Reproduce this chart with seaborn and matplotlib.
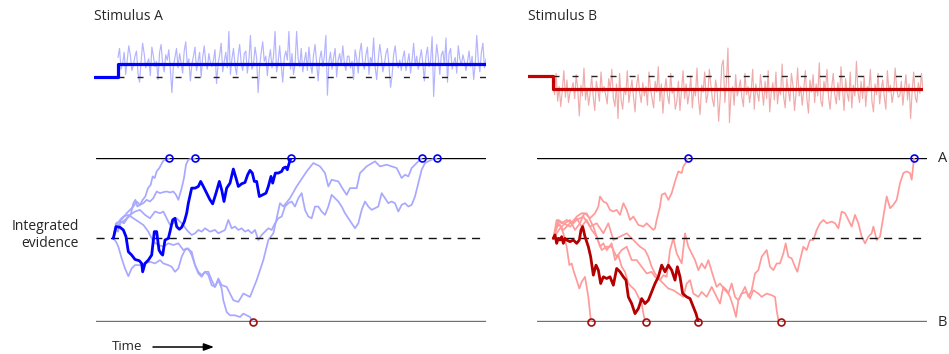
import numpy as np
import matplotlib
matplotlib.use("Agg")
import matplotlib.pyplot as plt
import seaborn as sns

# ---------------- data ----------------
# Stimulus traces (signal level relative to the dashed zero line)
stim_duration = 368
stim_a_signal_t = [-24, 0, 368]
stim_a_signal_v = [0, 1, 1]
stim_b_signal_t = [-25, 0, 370]
stim_b_signal_v = [0, -1, -1]

stim_a_noise = [
    1.5, 2.2, 0.6, 1.0, 1.9, 0.2, 1.3, 2.4, 1.7, 0.5, 0.9, 1.6, 2.0, 0.3, -0.4, 1.2, 2.6, 1.8, 0.7, 1.1,
    1.4, 0.1, 2.3, 1.6, 0.8, 1.2, -0.2, 1.9, 2.5, 1.0, 0.4, 1.7, 1.3, 2.1, 0.6, -1.2, 0.9, 1.5, 2.2, 0.7,
    1.8, 1.1, 0.3, 2.0, 2.7, 0.9, 1.4, -0.3, 1.0, 1.6, 2.3, 0.5, 1.2, 1.9, 0.0, 1.5, 2.4, 1.1, 0.6, 1.8,
    1.1, 0.8, 1.3, 2.1, -0.5, 1.0, 1.7, 2.6, 0.4, 1.2, 1.9, 0.7, 3.5, 0.2, 1.4, 2.2, 0.9, 0.2, 1.6, 2.5,
    1.1, 0.5, 1.8, 2.0, 0.3, 1.3, 3.2, 0.6, 1.0, 2.3, 1.5, -1.2, 0.8, 1.9, 2.7, 1.2, 1.6, 0.1, 1.4, 2.1,
    0.7, 1.6, 3.5, 0.4, 1.1, 2.4, 0.9, -0.4, 1.5, 2.0, 1.3, 3.5, 0.6, 1.8, 0.2, 1.0, 3.5, 1.4, 0.8, 2.2,
    0.4, 1.2, 1.9, 0.5, 2.3, 1.0, 0.3, 1.7, 2.5, 1.1, -0.3, 1.4, 2.0, 0.8, 1.6, 3.2, -1.4, 1.2, 1.9, 0.6,
    1.5, 2.2, 0.0, 1.3, 1.8, 0.9, 2.4, 1.1, 0.5, 1.6, 1.6, 0.7, 1.2, -0.2, 2.1, 1.4, 0.3, 1.9, 2.6, 1.0,
    0.6, 1.7, 2.3, 0.2, 1.5, 1.1, 3.0, 0.8, -0.2, 1.3, 2.5, 1.6, 0.4, 1.0, 1.8, 2.2, 0.9, -0.8, 0.1, 1.7,
    2.4, 1.2, 0.7, 1.3, 0.5, 1.5, 2.0, 0.5, 1.1, 1.8, 0.3, 1.3, 2.6, 0.9, 1.6, 0.6, 1.4, 2.1, 1.0, -0.3,
    1.6, 2.3, 0.8, 1.2, 3.1, -1.5, 1.0, 2.5, 1.5, 0.2, 1.7, 2.0, 0.9, 3.0, -0.4, 1.8, 2.2, 0.6, 1.1, 1.5,
    0.3, 2.4, 1.4, 0.9, 1.7, 1.2, 0.5, 1.2, 2.0, 0.8, 1.6, -0.2, 1.0, 3.2, 1.3, 0.4, 1.9, 2.6, 0.7, 1.4,
]
stim_b_noise = [
    -0.6, -1.4, 0.2, -1.9, -0.8, -2.3, -1.1, 0.4, -1.6, -0.3, -2.0, -1.2, -1.0, -0.5, -1.7, 0.1, -1.0, -3.0, -0.7, -1.5,
    0.6, -1.8, -0.9, -2.2, -1.3, 0.0, -1.6, -2.6, -0.4, -1.1, -1.9, 0.3, -1.2, -0.8, -1.4, -2.1, -0.2, -1.0, 0.5, -1.7,
    -2.3, -0.6, -3.2, 0.2, -1.8, -2.5, -0.9, -1.4, 0.4, -2.0, -1.1, -0.3, -1.6, -2.7, -0.7, 0.1, -1.3, -2.0, -0.5, -1.5,
    -0.8, -2.2, 0.3, -1.0, -1.7, -2.4, -0.4, -1.2, 0.7, -1.9, -0.6, -2.8, -1.1, -0.2, -1.5, -2.1, 0.2, -1.3, -0.9, -2.5,
    -1.9, -0.4, -2.6, -1.1, 0.4, -1.7, -0.6, -2.1, -1.3, 0.0, -2.4, -0.9, -1.5, 0.6, -1.8, -2.9, -0.7, -1.2, 0.3, -2.0,
    -1.4, 0.5, -0.7, -1.8, -2.3, -0.3, -1.0, -3.4, -1.6, 0.8, 1.2, -2.0, -0.5, 2.1, -3.5, -1.2, -0.8, -2.2, 0.1, -1.5,
    -1.0, -0.3, -1.6, -2.3, 0.2, -1.4, -0.8, -2.0, -1.1, 0.5, -2.5, -0.6, -1.3, -1.9, 0.1, -1.0, -2.2, -0.4, -1.7, 0.4,
    -2.7, -1.2, -0.5, -1.8, 0.3, -2.1, -0.9, -1.4, 0.9, -1.6, -2.4, -0.2, -1.1, -1.9, 0.2, -0.7, -2.6, -1.3, 0.6, -1.5,
    -0.8, -2.2, -1.0, 0.4, -1.7, -2.8, -0.3, -1.2, 0.1, -2.0, -0.6, -1.5, 1.0, -1.9, -2.3, -0.4, -1.1, 0.5, -1.6, -2.5,
    -0.9, 0.2, -1.4, -2.1, -0.5, -1.8, 0.7, -1.0, -2.6, -0.2, -1.3, -1.9, 0.3, -2.4, -0.7, -1.5, 1.1, -1.2, -2.0, -0.4,
    -1.7, 0.0, -2.3, -0.8, -1.1, 0.5, -1.9, -2.7, -0.6, -1.4, 0.2, -2.1, -1.0, -0.3, -1.6, -2.5, 0.4, -1.2, -0.7, -2.0,
    -1.3, 0.6, -0.9, -1.6, -1.5, -0.4, -2.2, -1.0, 0.1, -1.8, -0.6, -3.2, -1.1, 0.3, -1.6, -2.0, -0.5, -1.3, 0.2, -1.1,
]

# Integrated evidence (arbitrary units): bound A = +240, bound B = -250
bound_a = 240
bound_b = -250

walk_a_bold = [(0, 0), (8, 35), (20, 33), (30, 25), (38, 5), (45, -40), (55, -50), (65, -63),
               (78, -67), (85, -75), (88, -100), (95, -75), (105, -65), (115, -50), (123, 20),
               (130, 20), (137, -35), (143, -45), (148, -50), (155, -5), (165, 0), (170, 20),
               (178, 55), (185, 60), (190, 35), (198, 27), (205, 33), (213, 50), (220, 75),
               (225, 105), (235, 150), (245, 150), (255, 155), (262, 170), (270, 155), (280, 135),
               (290, 115), (298, 103), (308, 135), (318, 170), (325, 145), (332, 110), (340, 150),
               (350, 165), (360, 207), (368, 180), (375, 155), (385, 163), (395, 167), (403, 190),
               (410, 203), (417, 195), (423, 170), (430, 170), (438, 125), (448, 130), (458, 135),
               (465, 155), (473, 185), (478, 165), (486, 195), (495, 195), (505, 200), (510, 210),
               (517, 213), (522, 205), (527, 223), (533, 240)]
walks_a_light = [
    [(0, 0), (6, 30), (14, 20), (22, 50), (32, 45), (42, 60), (52, 70), (60, 105), (66, 115),
     (72, 95), (80, 100), (88, 115), (96, 125), (104, 150), (112, 160), (118, 185), (124, 180),
     (130, 200), (138, 210), (146, 225), (152, 235), (160, 232), (167, 240)],
    [(0, 0), (8, 45), (18, 50), (28, 60), (40, 75), (50, 85), (60, 95), (70, 110), (80, 100),
     (90, 105), (100, 115), (110, 110), (120, 120), (130, 140), (140, 135), (150, 138),
     (160, 140), (170, 137), (180, 140), (188, 130), (195, 115), (205, 150), (212, 180),
     (218, 220), (225, 235), (235, 238), (245, 240)],
    [(0, 0), (8, -10), (15, -25), (25, -60), (35, -90), (45, -113), (55, -90), (65, -80),
     (80, -80), (95, -75), (110, -70), (125, -75), (140, -65), (150, -75), (165, -80),
     (175, -85), (185, -100), (195, -90), (205, -55), (215, -35), (225, -30), (235, -50),
     (245, -80), (255, -105), (265, -115), (275, -100), (285, -110), (295, -140), (305, -145),
     (315, -125), (325, -150), (330, -185), (340, -220), (350, -230), (365, -230), (380, -235),
     (390, -225), (400, -230), (410, -235), (418, -250)],
    [(0, 0), (10, 40), (20, 55), (30, 65), (45, 70), (60, 60), (75, 50), (90, 40), (105, 20),
     (120, -10), (135, -20), (150, -25), (165, -15), (180, -20), (195, -15), (210, -35),
     (220, -30), (235, -40), (245, -80), (255, -100), (265, -110), (275, -100), (285, -100),
     (295, -125), (305, -145), (315, -120), (325, -140), (340, -145), (350, -165), (360, -185),
     (375, -190), (390, -165), (410, -175), (430, -125), (450, -65), (465, -5), (480, 15),
     (500, 105), (510, 95), (530, 120), (550, 155), (560, 170), (580, 200), (600, 225),
     (620, 215), (635, 195), (645, 155), (655, 175), (675, 170), (690, 145), (700, 130),
     (710, 150), (730, 150), (740, 195), (760, 215), (785, 230), (800, 215), (820, 220),
     (835, 215), (850, 210), (865, 180), (875, 190), (885, 185), (895, 210), (910, 225),
     (925, 240)],
    [(0, 0), (10, 30), (20, 45), (35, 55), (50, 70), (65, 80), (80, 85), (95, 70), (110, 60),
     (125, 80), (140, 75), (150, 80), (160, 60), (170, 40), (180, 45), (190, 60), (200, 50),
     (210, 40), (220, 25), (235, 10), (245, 15), (255, 25), (265, 20), (275, 30), (290, 20),
     (305, 25), (315, 15), (325, 20), (335, 25), (345, 55), (355, 30), (365, 35), (375, 25),
     (385, 30), (395, 20), (405, 25), (415, 15), (425, 25), (435, -5), (445, 10), (455, 20),
     (465, 30), (475, 25), (485, 45), (495, 60), (505, 65), (515, 95), (525, 105), (535, 110),
     (545, 95), (555, 120), (565, 135), (575, 85), (585, 65), (595, 60), (605, 95), (615, 95),
     (625, 80), (635, 70), (645, 95), (655, 130), (665, 120), (675, 110), (685, 95), (695, 75),
     (705, 60), (715, 45), (725, 30), (735, 45), (745, 85), (755, 110), (765, 95), (775, 85),
     (785, 90), (795, 95), (805, 135), (815, 120), (825, 105), (835, 110), (845, 105),
     (855, 80), (865, 100), (875, 105), (885, 95), (895, 100), (905, 125), (915, 165),
     (925, 205), (935, 225), (945, 230), (955, 235), (970, 240)],
]

walk_b_bold = [(0, 0), (5, 10), (10, -15), (15, 0), (20, -5), (25, 5), (30, -15), (35, 0), (40, -5),
               (50, -10), (60, -5), (70, -15), (78, -5), (83, 25), (88, 35), (95, 5), (105, -25),
               (112, -55), (120, -110), (128, -80), (135, -95), (142, -135), (150, -115),
               (160, -120), (170, -115), (180, -140), (190, -90), (200, -100), (210, -115),
               (218, -125), (225, -175), (235, -195), (245, -225), (255, -210), (265, -180),
               (275, -195), (285, -185), (295, -160), (305, -135), (315, -115), (325, -80),
               (335, -100), (345, -80), (355, -95), (365, -125), (372, -85), (380, -115),
               (388, -165), (400, -175), (410, -180), (420, -205), (428, -225), (435, -250)]
walks_b_light = [
    [(0, 0), (10, 35), (20, 40), (30, 15), (40, -25), (48, -80), (55, -75), (60, -95),
     (70, -125), (78, -150), (85, -130), (95, -115), (105, -175), (113, -250)],
    [(0, 0), (10, 55), (25, 45), (40, 55), (55, 45), (70, 65), (85, 75), (95, 75), (110, 60),
     (125, 75), (135, 95), (140, 125), (150, 110), (160, 105), (170, 85), (180, 80), (190, 85),
     (200, 70), (210, 105), (220, 85), (230, 55), (240, 65), (255, 40), (270, 35), (280, 45),
     (290, 35), (300, 25), (305, 30), (310, 55), (320, 95), (325, 130), (335, 135), (345, 115),
     (355, 135), (365, 170), (375, 200), (385, 195), (390, 215), (397, 225), (403, 240)],
    [(0, 0), (10, 15), (20, 30), (35, 45), (50, 55), (65, 25), (80, 45), (90, 70), (100, 75),
     (110, 55), (120, 35), (130, 5), (140, -25), (150, -15), (160, -35), (175, -15), (185, -65),
     (195, -50), (205, -85), (215, -100), (225, -135), (235, -145), (245, -155), (255, -175),
     (265, -195), (272, -235), (278, -250)],
    [(0, 0), (15, 55), (30, 45), (50, 35), (70, 55), (90, 65), (110, 35), (130, 45), (150, 15),
     (165, 45), (180, -5), (200, 5), (220, 15), (240, -5), (260, -25), (275, -35), (285, -55),
     (295, -85), (305, -105), (320, -125), (330, -110), (340, -115), (350, -35), (360, 0),
     (370, -45), (385, -75), (395, 15), (405, -25), (415, -45), (425, -65), (435, -95),
     (445, -75), (455, -90), (465, -65), (480, -115), (490, -145), (500, -135), (515, -155),
     (525, -165), (535, -135), (545, -175), (555, -185), (565, -165), (580, -160), (590, -180),
     (600, -155), (615, -165), (625, -175), (640, -165), (655, -170), (665, -175), (670, -215),
     (675, -245), (683, -250)],
    [(0, 0), (15, 45), (30, 25), (50, 45), (70, 60), (85, 35), (100, 55), (115, 25), (130, 5),
     (145, -35), (160, -25), (175, -25), (190, -55), (205, -35), (220, -25), (235, -65),
     (250, -65), (265, -85), (280, -105), (295, -100), (305, -115), (320, -125), (330, -135),
     (345, -150), (360, -155), (375, -165), (390, -175), (400, -135), (410, -125), (420, -165),
     (435, -175), (445, -160), (460, -175), (475, -145), (485, -165), (500, -195), (510, -145),
     (520, -155), (530, -175), (540, -205), (548, -235), (555, -185), (565, -165), (575, -145),
     (585, -175), (595, -155), (605, -105), (615, -95), (625, -55), (640, -35), (650, -85),
     (660, -95), (670, -75), (680, -75), (690, -45), (697, -15), (705, -55), (715, -60),
     (725, -85), (732, -100), (740, -65), (750, -25), (760, -35), (770, -5), (780, -5),
     (790, 25), (800, 45), (810, 55), (820, 45), (835, 50), (845, 45), (855, 30), (865, 80),
     (875, 75), (885, 55), (895, 35), (905, 70), (915, 45), (925, 5), (935, -15), (945, 5),
     (955, 15), (960, 35), (970, -5), (980, 5), (990, 65), (1000, 125), (1010, 90),
     (1020, 100), (1030, 115), (1040, 165), (1050, 195), (1060, 200), (1070, 195),
     (1075, 175), (1082, 240)],
]

# ---------------- style ----------------
sns.set_style("white")
plt.rcParams["font.family"] = ["Open Sans", "DejaVu Sans"]

W, H = 949, 354
fig = plt.figure(figsize=(W / 100, H / 100), dpi=100)


def add_ax(x0, y0, x1, y1):
    ax = fig.add_axes([x0 / W, 1 - y1 / H, (x1 - x0) / W, (y1 - y0) / H])
    ax.axis("off")
    return ax


BLUE = "#0000ff"
LBLUE = "#a8a8ff"
RED = "#b40000"
LRED = "#ff9a9a"
MRED = "#a01010"

# ---------------- stimulus panels ----------------
def draw_stim(ax, noise, sig_t, sig_v, noise_col, sig_col, dur):
    times = np.linspace(0, dur, len(noise))
    sns.lineplot(x=times, y=noise, ax=ax, color=noise_col, lw=0.85,
                 estimator=None, sort=False, zorder=1)
    ax.hlines(0, 0, dur, colors="#222222", linestyles=(0, (4.3, 9.4)), lw=1.0, zorder=2)
    sns.lineplot(x=sig_t, y=sig_v, ax=ax, color=sig_col, lw=2.3, drawstyle="steps-post",
                 estimator=None, sort=False, zorder=3)


axA = add_ax(94, 20, 486, 110)
axA.set_xlim(-24, 368)
axA.set_ylim(-33 / 13, 57 / 13)
draw_stim(axA, stim_a_noise, stim_a_signal_t, stim_a_signal_v, "#b4b4ff", BLUE, stim_duration)

axB = add_ax(528, 19, 923, 129)
axB.set_xlim(-25, 370)
axB.set_ylim(-53 / 13.3, 57 / 13.3)
draw_stim(axB, stim_b_noise, stim_b_signal_t, stim_b_signal_v, "#efacac", "#c40000", 370)

# ---------------- evidence panels ----------------
def draw_evidence(ax, light, bold, light_col, bold_col):
    ax.axhline(bound_a, color="black", lw=1.0, zorder=1)
    ax.axhline(bound_b, color="#707070", lw=1.7, zorder=1)
    ax.axhline(0, color="#111111", lw=1.0, ls=(0, (5.8, 4.6)), zorder=3)
    for w in light:
        arr = np.array(w)
        sns.lineplot(x=arr[:, 0], y=arr[:, 1], ax=ax, color=light_col, lw=1.25,
                     estimator=None, zorder=2)
    arr = np.array(bold)
    sns.lineplot(x=arr[:, 0], y=arr[:, 1], ax=ax, color=bold_col, lw=2.0,
                 estimator=None, zorder=4)
    for w in light + [bold]:
        t_end, v_end = w[-1]
        col = BLUE if v_end >= bound_a else MRED
        ax.plot([t_end], [v_end], "o", mfc="none", mec=col, ms=5, mew=1.2,
                clip_on=False, zorder=6)


axEA = add_ax(96, 158, 486, 322)
axEA.set_xlim(-52, 1118)
axEA.set_ylim(bound_b, bound_a)
draw_evidence(axEA, walks_a_light, walk_a_bold, LBLUE, BLUE)

axEB = add_ax(537, 158, 926.7, 322)
axEB.set_xlim(-49, 1120)
axEB.set_ylim(bound_b, bound_a)
draw_evidence(axEB, walks_b_light, walk_b_bold, LRED, RED)

# ---------------- text ----------------
def fx(x):
    return x / W


def fy(y):
    return 1 - y / H


fig.text(fx(94), fy(20), "Stimulus A", fontsize=10, ha="left", va="baseline")
fig.text(fx(528), fy(20.5), "Stimulus B", fontsize=10, ha="left", va="baseline")
fig.text(fx(79), fy(235), "Integrated\nevidence", fontsize=10, ha="right", va="center",
         multialignment="right", linespacing=1.25)
fig.text(fx(938), fy(158), "A", fontsize=10.5, ha="left", va="center")
fig.text(fx(938), fy(322), "B", fontsize=10.5, ha="left", va="center")
fig.text(fx(112), fy(347), "Time", fontsize=9.5, ha="left", va="center")
fig.add_artist(matplotlib.patches.FancyArrowPatch(
    (fx(153), fy(347)), (fx(214), fy(347)), transform=fig.transFigure,
    arrowstyle="-|>,head_length=6,head_width=2.2", lw=1.1, color="black",
    shrinkA=0, shrinkB=0))

fig.savefig("out.png", dpi=100)
